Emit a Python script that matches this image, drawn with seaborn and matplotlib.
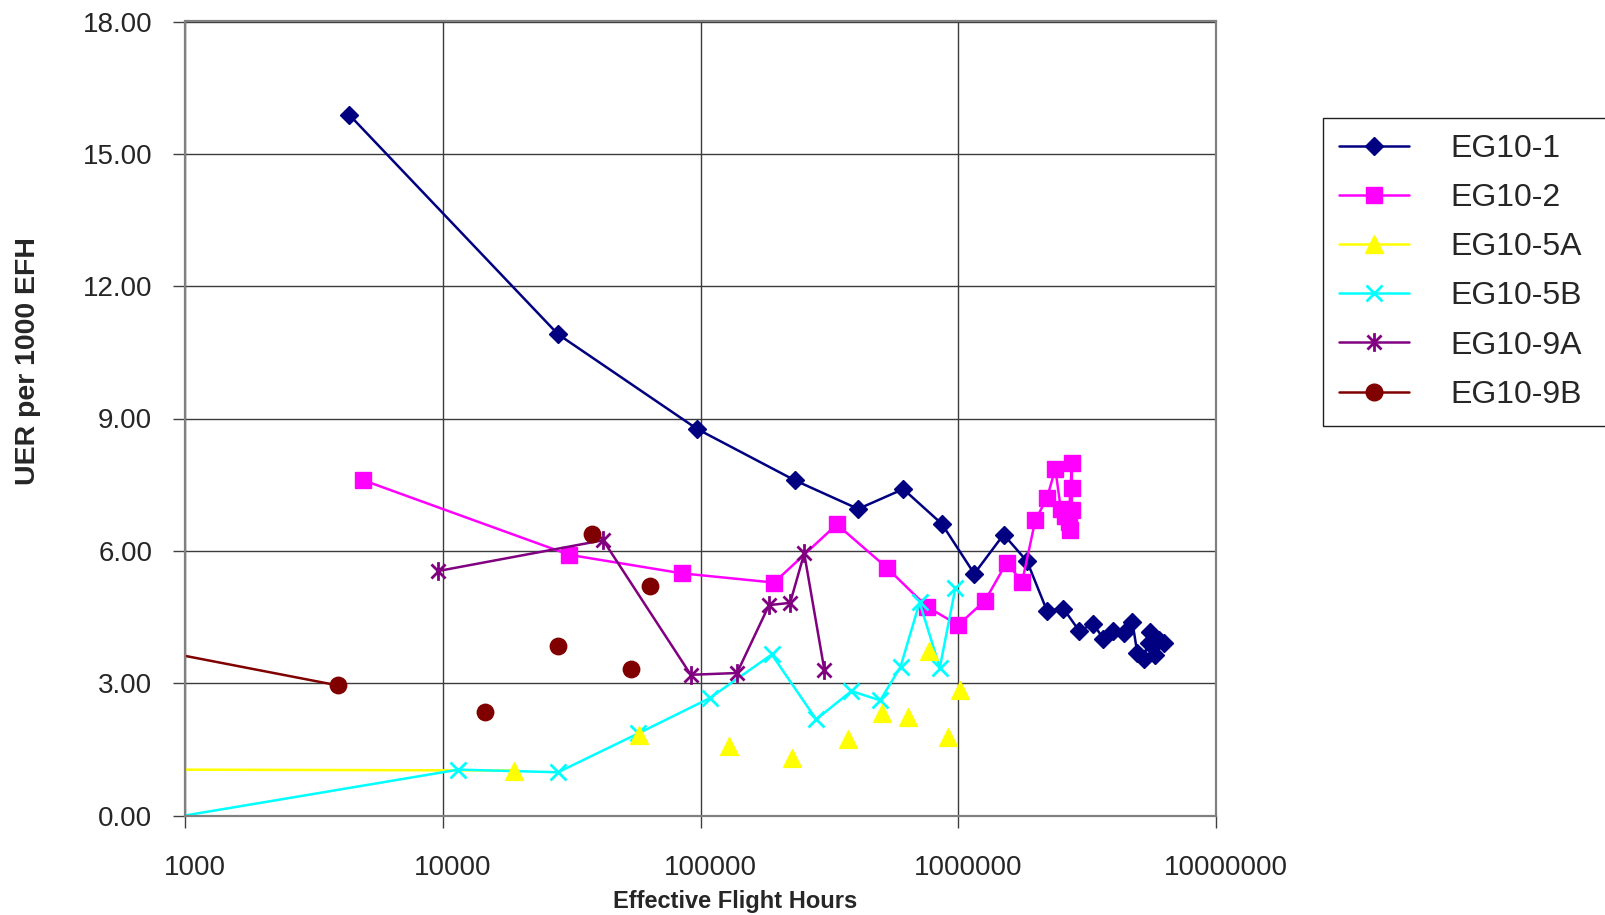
import seaborn as sns
import matplotlib.pyplot as plt
import matplotlib.transforms as mtransforms
from matplotlib.path import Path
from matplotlib.lines import Line2D
from matplotlib.ticker import FixedLocator, FuncFormatter, NullLocator

# data (x = effective flight hours, y = UER per 1000 EFH)
eg1_x = [4330, 28000, 97200, 232000, 409000, 612000, 864000, 1154000, 1500000, 1850000,
         2210000, 2560000, 2950000, 3340000, 3660000, 4000000, 4380000, 4740000, 4950000,
         5240000, 5560000, 5480000, 5820000, 5990000, 6270000]
eg1_y = [15.89, 10.91, 8.76, 7.60, 6.95, 7.40, 6.61, 5.48, 6.37, 5.76,
         4.64, 4.69, 4.18, 4.35, 4.00, 4.19, 4.14, 4.38, 3.69,
         3.54, 4.17, 3.91, 3.64, 3.98, 3.91]

eg2_x = [4920, 30970, 84700, 193000, 338000, 530000, 756000, 1000000, 1270000, 1540000,
         1770000, 1990000, 2210000, 2380000, 2500000, 2600000, 2680000, 2760000, 2760000,
         2760000, 2720000]
eg2_y = [7.60, 5.91, 5.49, 5.28, 6.60, 5.61, 4.73, 4.32, 4.87, 5.73,
         5.30, 6.69, 7.20, 7.86, 6.95, 6.80, 6.65, 7.99, 7.42, 6.93, 6.48]

# first value sits left of the 1000 hour axis limit
eg5a_x = [939, 18900, 57700, 129000, 227000, 372000, 504000, 639000, 773000, 910000, 1019000]
eg5a_y = [1.04, 1.02, 1.82, 1.58, 1.31, 1.73, 2.33, 2.24, 3.73, 1.78, 2.85]

eg5b_x = [1000, 11500, 28000, 57300, 108500, 189000, 281000, 385000, 498000, 597000,
          708000, 848000, 975000]
eg5b_y = [0.00, 1.04, 0.98, 1.86, 2.66, 3.65, 2.18, 2.82, 2.61, 3.37, 4.83, 3.35, 5.16]

eg9a_x = [9550, 41900, 91700, 138500, 184500, 222700, 252600, 302600]
eg9a_y = [5.54, 6.24, 3.19, 3.23, 4.77, 4.82, 5.94, 3.29]

eg9b_x = [939, 3910, 14600, 28000, 37900, 53800, 63500]
eg9b_y = [3.65, 2.95, 2.35, 3.85, 6.38, 3.33, 5.20]

series = ['EG10-1', 'EG10-2', 'EG10-5A', 'EG10-5B', 'EG10-9A', 'EG10-9B']
colors = ['#000080', '#FF00FF', '#FFFF00', '#00FFFF', '#800080', '#800000']

x_ticks = [1000, 10000, 100000, 1000000, 10000000]
y_ticks = [0, 3, 6, 9, 12, 15, 18]

sns.set_theme(style='white')
plt.rcParams['font.family'] = ['Liberation Sans', 'DejaVu Sans']

# excel style asterisk: an x with a vertical bar
star = Path([(-0.75, -0.75), (0.75, 0.75), (-0.75, 0.75), (0.75, -0.75), (0, -1), (0, 1)],
            [Path.MOVETO, Path.LINETO, Path.MOVETO, Path.LINETO, Path.MOVETO, Path.LINETO])

fig = plt.figure(figsize=(16.06, 9.15), dpi=100)
ax = fig.add_axes([185 / 1606, 1 - 815.5 / 915, 1031 / 1606, 794 / 915])
lw = 1.8

sns.lineplot(x=eg1_x, y=eg1_y, ax=ax, color=colors[0], lw=lw, marker='D', markersize=9,
             markeredgecolor=colors[0], markerfacecolor=colors[0], markeredgewidth=1,
             estimator=None, sort=False)
sns.lineplot(x=eg2_x, y=eg2_y, ax=ax, color=colors[1], lw=lw, marker='s', markersize=12,
             markeredgecolor=colors[1], markerfacecolor=colors[1], markeredgewidth=1,
             estimator=None, sort=False)
# 5A: only the first segment is joined, the rest are lone points
sns.lineplot(x=eg5a_x[:2], y=eg5a_y[:2], ax=ax, color=colors[2], lw=lw,
             estimator=None, sort=False)
sns.scatterplot(x=eg5a_x[1:], y=eg5a_y[1:], ax=ax, color=colors[2], marker='^', s=165,
                edgecolor=colors[2], linewidth=1, zorder=3)
sns.lineplot(x=eg5b_x, y=eg5b_y, ax=ax, color=colors[3], lw=lw, marker='x', markersize=11.5,
             markeredgecolor=colors[3], markeredgewidth=2, markevery=list(range(1, len(eg5b_x))),
             estimator=None, sort=False)
sns.lineplot(x=eg9a_x, y=eg9a_y, ax=ax, color=colors[4], lw=lw, marker=star, markersize=13.5,
             markeredgecolor=colors[4], markeredgewidth=2,
             estimator=None, sort=False)
sns.lineplot(x=eg9b_x[:2], y=eg9b_y[:2], ax=ax, color=colors[5], lw=lw,
             estimator=None, sort=False)
sns.scatterplot(x=eg9b_x[1:], y=eg9b_y[1:], ax=ax, color=colors[5], marker='o', s=165,
                edgecolor=colors[5], linewidth=0, zorder=4)

ax.set_xscale('log')
ax.set_xlim(1000, 10000000)
ax.set_ylim(0, 18)
ax.xaxis.set_major_locator(FixedLocator(x_ticks))
ax.xaxis.set_minor_locator(NullLocator())
ax.xaxis.set_major_formatter(FuncFormatter(lambda v, p: f'{int(round(v))}'))
ax.yaxis.set_major_locator(FixedLocator(y_ticks))
ax.yaxis.set_major_formatter(FuncFormatter(lambda v, p: f'{v:.2f}'))

ax.grid(True, color='#3c3c3c', lw=1)
ax.set_axisbelow(True)
for sp in ax.spines.values():
    sp.set_color('#808080')
    sp.set_linewidth(1.6)
ax.tick_params(axis='both', direction='out', length=8.5, width=1, color='#404040',
               labelsize=20, pad=15, left=True, bottom=True)
ax.tick_params(axis='x', pad=20)

# excel puts the x labels a little to the right of the ticks
shift = mtransforms.ScaledTranslation(0.095, 0, fig.dpi_scale_trans)
for lab in ax.get_xticklabels():
    lab.set_transform(lab.get_transform() + shift)

ax.set_xlabel('Effective Flight Hours', fontsize=17, fontweight='bold')
ax.set_ylabel('UER per 1000 EFH', fontsize=20.5, fontweight='bold')
ax.xaxis.label.set_va('center')
ax.yaxis.label.set_va('center')
ax.xaxis.set_label_coords(0.5335, -0.108)
ax.yaxis.set_label_coords(-0.1525, 0.572)

handles = [
    Line2D([], [], color=colors[0], lw=lw, marker='D', markersize=9, markerfacecolor=colors[0]),
    Line2D([], [], color=colors[1], lw=lw, marker='s', markersize=12, markerfacecolor=colors[1]),
    Line2D([], [], color=colors[2], lw=lw, marker='^', markersize=12.5, markerfacecolor=colors[2]),
    Line2D([], [], color=colors[3], lw=lw, marker='x', markersize=11.5, markeredgewidth=2),
    Line2D([], [], color=colors[4], lw=lw, marker=star, markersize=13.5, markeredgewidth=2),
    Line2D([], [], color=colors[5], lw=lw, marker='o', markersize=12, markerfacecolor=colors[5]),
]
leg = fig.legend(handles, series, loc='upper left',
                 bbox_to_anchor=(1323 / 1606, 1 - 118 / 915, 0.2, 0.0), mode='expand',
                 fontsize=23, frameon=True, fancybox=False, framealpha=1,
                 edgecolor='#202020', borderpad=0.5, labelspacing=0.6,
                 handlelength=2.2, handletextpad=1.3, borderaxespad=0)
leg.get_frame().set_linewidth(1)

fig.savefig('out.png', dpi=100)
